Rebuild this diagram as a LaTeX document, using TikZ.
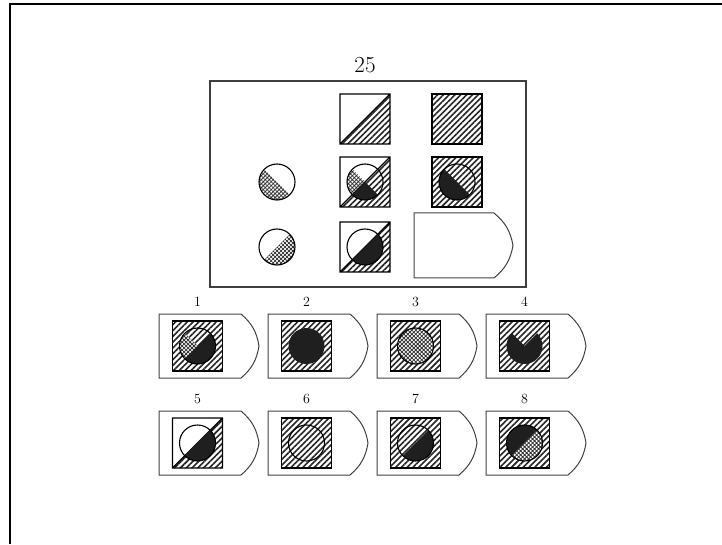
\documentclass[tikz,border=0pt]{standalone}
\usetikzlibrary{patterns,patterns.meta}

% pieces of the figures
\newcommand{\piece}[4]{(#1,#2) -- ++(#3:18) arc[start angle=#3,end angle=#4,radius=18] -- cycle}
\newcommand{\halfsq}[2]{%
  \fill[hatch] (#1-25,#2-25) -- (#1+25,#2-25) -- (#1+25,#2+25) -- cycle;
  \draw[figline] (#1-25,#2-25) rectangle (#1+25,#2+25) (#1-25,#2-25) -- (#1+25,#2+25);}
\newcommand{\fullsq}[2]{%
  \fill[hatch] (#1-25,#2-25) rectangle (#1+25,#2+25);
  \draw[figline] (#1-25,#2-25) rectangle (#1+25,#2+25);}
\newcommand{\ring}[2]{\draw[figline] (#1,#2) circle[radius=18];}
\newcommand{\optbox}[4]{%
  \draw[boxline] (#1,#2) -- (#1+82,#2) to[bend right=20] (#1+100,#2+32)
    to[bend right=20] (#1+82,#2+64) -- (#1,#2+64) -- cycle;
  \node[font=\fontsize{14}{16}\selectfont] (#4) at (#1+38.5,#2+76) {#3};}

\begin{document}
\begin{tikzpicture}[x=1pt,y=1pt,
    hatch/.style={pattern={Lines[angle=45,distance=4.1pt,line width=1.6pt]},pattern color=black!85},
    mesh/.style={pattern={Hatch[angle=45,distance=2.8pt,line width=0.8pt]},pattern color=black!80},
    ink/.style={fill=black!88},
    figline/.style={line width=1.1pt},
    boxline/.style={draw=black!75,line width=1pt}]
    \useasboundingbox (0,0) rectangle (722,544);

    % frame
    \draw[line width=1.7pt] (10,0) -- (10,540) -- (722,540);

    % the matrix
    \node[font=\fontsize{23}{26}\selectfont] (title) at (365,479) {25};
    \draw[draw=black!75,line width=1.1pt] (210,257) rectangle (526,463);

    % first row
    \halfsq{365}{425}
    \fullsq{457}{425}

    % second row
    \fill[white] (277,362) circle[radius=18];
    \fill[mesh] \piece{277}{362}{135}{315};
    \ring{277}{362}
    \halfsq{365}{362}
    \fill[mesh] \piece{365}{362}{135}{225};
    \fill[ink] \piece{365}{362}{225}{315};
    \ring{365}{362}
    \fullsq{457}{362}
    \fill[ink] \piece{457}{362}{135}{315};
    \ring{457}{362}

    % third row
    \fill[white] (277,297) circle[radius=18];
    \fill[mesh] \piece{277}{297}{-135}{45};
    \ring{277}{297}
    \halfsq{365}{297}
    \fill[ink] \piece{365}{297}{-135}{45};
    \ring{365}{297}
    \draw[boxline] (414,266) -- (494,266) to[bend right=20] (513,298.5)
      to[bend right=20] (494,331) -- (414,331) -- cycle;

    % answers, first row
    \optbox{159}{166}{1}{n1}
    \fullsq{197.5}{198}
    \fill[white] \piece{197.5}{198}{135}{225};
    \fill[mesh] \piece{197.5}{198}{135}{225};
    \fill[ink] \piece{197.5}{198}{225}{405};
    \ring{197.5}{198}

    \optbox{268}{166}{2}{n2}
    \fullsq{306.5}{198}
    \fill[ink] (306.5,198) circle[radius=18];

    \optbox{377}{166}{3}{n3}
    \fullsq{415.5}{198}
    \fill[white] (415.5,198) circle[radius=18];
    \fill[mesh] (415.5,198) circle[radius=18];
    \ring{415.5}{198}

    \optbox{486}{166}{4}{n4}
    \fullsq{524.5}{198}
    \fill[ink] \piece{524.5}{198}{135}{405};

    % answers, second row
    \optbox{159}{69}{5}{n5}
    \halfsq{197.5}{101}
    \fill[ink] \piece{197.5}{101}{-135}{45};
    \ring{197.5}{101}

    \optbox{268}{69}{6}{n6}
    \fullsq{306.5}{101}
    \ring{306.5}{101}

    \optbox{377}{69}{7}{n7}
    \fullsq{415.5}{101}
    \fill[ink] \piece{415.5}{101}{-135}{45};
    \ring{415.5}{101}

    \optbox{486}{69}{8}{n8}
    \fullsq{524.5}{101}
    \fill[ink] \piece{524.5}{101}{45}{225};
    \fill[white] \piece{524.5}{101}{-135}{45};
    \fill[mesh] \piece{524.5}{101}{-135}{45};
    \ring{524.5}{101}
\end{tikzpicture}
\end{document}
